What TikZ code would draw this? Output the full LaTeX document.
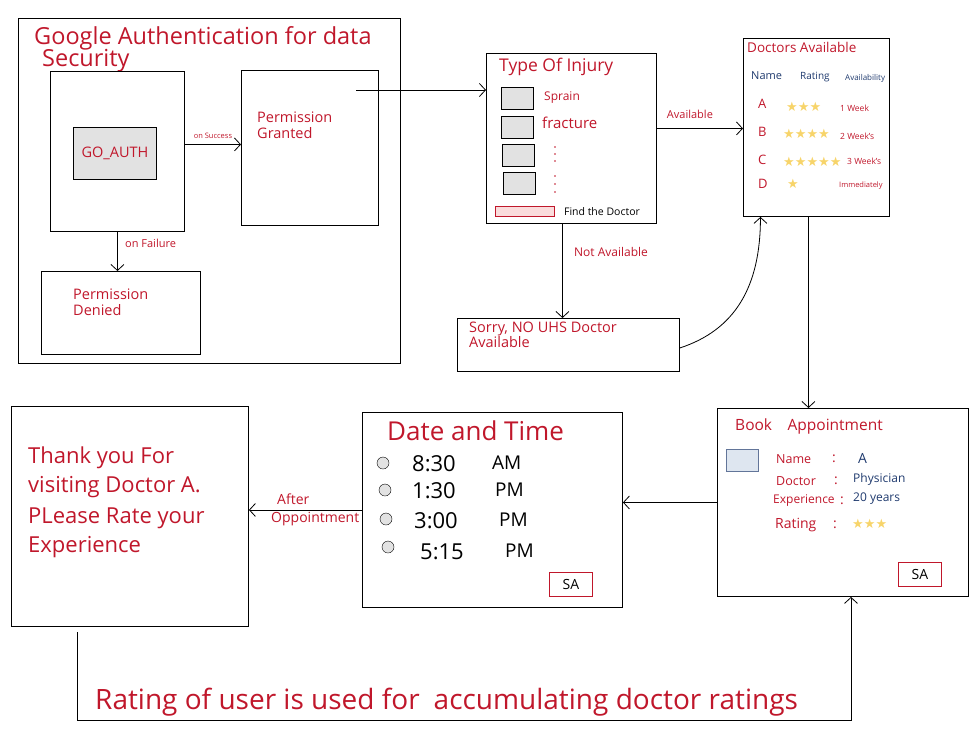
\documentclass[tikz,border=0pt]{standalone}
\usepackage{fontspec}
\setmainfont{Open Sans}
\newfontfamily\starfont{DejaVu Sans}
\usetikzlibrary{arrows.meta,positioning}
\definecolor{inkred}{HTML}{C0172B}
\definecolor{inkblue}{HTML}{1F3A6E}
\definecolor{boxgray}{HTML}{E2E2E2}
\definecolor{stargold}{HTML}{F7D46A}
\definecolor{btnpink}{HTML}{FADCDC}
\definecolor{picblue}{HTML}{DEE6F0}
\newcommand\fs[1]{\fontsize{#1}{#1}\selectfont}
\newcommand\starrow[1]{{\starfont\color{stargold}#1}}

\begin{document}
\begin{tikzpicture}[
            x=1pt, y=-1pt,
            box/.style={draw, line width=0.9pt, anchor=north west, inner sep=0pt},
            check/.style={box, fill=boxgray, minimum width=32pt, minimum height=22pt},
            radio/.style={draw, circle, fill=boxgray, minimum size=12pt, inner sep=0pt},
            sabox/.style={box, draw=inkred, minimum width=43pt, minimum height=24pt, font=\fs{14}},
            ink/.style={text=inkred, anchor=west, inner sep=0pt},
            bink/.style={text=inkblue, anchor=west, inner sep=0pt},
            plain/.style={anchor=west, inner sep=0pt},
            flow/.style={-{Straight Barb[length=6pt,width=13pt]}, line width=0.8pt}
        ]
        \useasboundingbox (0,0) rectangle (978,740);

        % google authentication block
        \node[box, minimum width=382pt, minimum height=345pt] (google) at (18,18) {};
        \node[ink, font=\fs{23.5}] (gtitle) at (34,38) {Google Authentication for data};
        \node[ink, font=\fs{23.5}] (gtitle2) at (42,61) {Security};
        \node[box, minimum width=134pt, minimum height=160pt] (goauth) at (50,71) {};
        \node[box, fill=boxgray, minimum width=83pt, minimum height=52pt,
              text=inkred, font=\fs{14.5}] (goinner) at (73,127) {GO\_AUTH};
        \node[box, minimum width=137pt, minimum height=155pt] (granted) at (241,70) {};
        \node[ink, font=\fs{14.5}, align=left] at (257,125) {Permission\\[2pt]Granted};
        \node[box, minimum width=159pt, minimum height=83pt] (denied) at (41,271) {};
        \node[ink, font=\fs{14.5}, align=left] at (73,302) {Permission\\[2pt]Denied};

        \draw[flow] ([yshift=7pt]goauth.east) -- ([yshift=7pt]goauth.east -| granted.west)
            node[midway, above=2pt, text=inkred, font=\fs{7.5}] {on Success};
        \draw[flow] (goauth.south) -- (goauth.south |- denied.north)
            node[pos=0.3, right=4pt, text=inkred, font=\fs{11}] {on Failure};

        % type of injury
        \node[box, minimum width=170pt, minimum height=170pt] (injury) at (486,53) {};
        \node[ink, font=\fs{17.5}] at (499,67) {Type Of Injury};
        \node[check] (c1) at (501,87) {};
        \node[check] (c2) at (501,116) {};
        \node[check] (c3) at (502,144) {};
        \node[check] (c4) at (503,172) {};
        \node[ink, font=\fs{12}] at (544,98) {Sprain};
        \node[ink, font=\fs{15}] at (542,123) {fracture};
        \foreach \y in {147,154,161,176,184,192}
            \fill[inkred] (555,\y) circle (0.9);
        \node[box, draw=inkred, fill=btnpink, minimum width=59pt, minimum height=10pt] (find) at (495,206) {};
        \node[plain, font=\fs{10.5}, right=9pt of find] {Find the Doctor};

        \coordinate (gout) at (356,90);
        \draw[flow] (gout) -- (gout -| injury.west);

        % doctors available
        \node[box, minimum width=146pt, minimum height=178pt] (doctors) at (743,38) {};
        \node[ink, font=\fs{13.5}] at (747,47) {Doctors Available};
        \node[bink, font=\fs{11}] at (751,76) {Name};
        \node[bink, font=\fs{10}] at (800,77) {Rating};
        \node[bink, font=\fs{8}] at (845,78) {Availability};
        \node[ink, font=\fs{13}] at (758,104) {A};
        \node[ink, font=\fs{13}] at (758,132) {B};
        \node[ink, font=\fs{13}] at (758,160) {C};
        \node[ink, font=\fs{13}] at (758,184) {D};
        \node[plain, font=\fs{13}] at (786,107) {\starrow{★★★}};
        \node[plain, font=\fs{13}] at (783,134) {\starrow{★★★★}};
        \node[plain, font=\fs{13}] at (783,162) {\starrow{★★★★★}};
        \node[plain, font=\fs{13}] at (787,184) {\starrow{★}};
        \node[ink, font=\fs{8.5}] at (840,108) {1 Week};
        \node[ink, font=\fs{8.5}] at (840,136) {2 Week's};
        \node[ink, font=\fs{8.5}] at (847,161) {3 Week's};
        \node[ink, font=\fs{7.5}] at (839,186) {Immediately};

        \draw[flow] ([yshift=10pt]injury.east) -- ([yshift=10pt]injury.east -| doctors.west)
            node[midway, above=6pt, xshift=-10pt, text=inkred, font=\fs{11}] {Available};

        % no doctors
        \node[box, minimum width=222pt, minimum height=53pt] (sorry) at (457,318) {};
        \node[ink, font=\fs{14.5}, align=left] at (469,335) {Sorry, NO UHS Doctor\\Available};
        \draw[flow] ([xshift=-9pt]injury.south) -- ([xshift=-9pt]injury.south |- sorry.north)
            node[pos=0.3, right=8pt, text=inkred, font=\fs{12}] {Not Available};
        \draw[flow] ([yshift=-3pt]sorry.east) .. controls +(55,-18) and +(0,70) .. ([xshift=-56pt]doctors.south);

        % book appointment
        \node[box, minimum width=251pt, minimum height=188pt] (book) at (717,408) {};
        \node[ink, font=\fs{15.5}] at (735,426) {Book\quad Appointment};
        \node[box, draw=inkblue!70, fill=picblue, minimum width=32pt, minimum height=22pt] (pic) at (726,449) {};
        \node[ink, font=\fs{12.5}] at (776,459) {Name};
        \node[ink, font=\fs{12.5}] at (776,481) {Doctor};
        \node[ink, font=\fs{12}] at (773,501) {Experience};
        \node[ink, font=\fs{14}] at (775,525) {Rating};
        \node[ink, font=\fs{14}] at (832,459) {:};
        \node[ink, font=\fs{14}] at (834,481) {:};
        \node[ink, font=\fs{14}] at (840,501) {:};
        \node[ink, font=\fs{14}] at (833,525) {:};
        \node[bink, font=\fs{14}] at (858,458) {A};
        \node[bink, font=\fs{12}] at (853,479) {Physician};
        \node[bink, font=\fs{12}] at (853,499) {20 years};
        \node[plain, font=\fs{13}] at (852,524) {\starrow{★★★}};
        \node[sabox] (sabook) at (898,562) {SA};

        \draw[flow] ([xshift=-8pt]doctors.south) -- ([xshift=-8pt]doctors.south |- book.north);

        % date and time
        \node[box, minimum width=260pt, minimum height=195pt] (datetime) at (362,412) {};
        \node[ink, font=\fs{26}] at (387,431) {Date and Time};
        \node[radio] (r1) at (383,463) {};
        \node[radio] (r2) at (385,490) {};
        \node[radio] (r3) at (386,519) {};
        \node[radio] (r4) at (388,547) {};
        \node[plain, font=\fs{22}] at (412,464) {8:30};
        \node[plain, font=\fs{22}] at (412,491) {1:30};
        \node[plain, font=\fs{22}] at (414,521) {3:00};
        \node[plain, font=\fs{22}] at (420,552) {5:15};
        \node[plain, font=\fs{19}] at (492,463) {AM};
        \node[plain, font=\fs{19}] at (495,490) {PM};
        \node[plain, font=\fs{19}] at (499,520) {PM};
        \node[plain, font=\fs{19}] at (505,551) {PM};
        \node[sabox] (sadate) at (549,572) {SA};

        \draw[flow] (book.west) -- (book.west -| datetime.east);

        % thank you
        \node[box, minimum width=237pt, minimum height=220pt] (thanks) at (11,406) {};
        \node[ink, font=\fs{22}, align=left, anchor=north west] at (28,447)
            {Thank you For\\[7pt]visiting Doctor A.\\[9pt]PLease Rate your\\[7pt]Experience};

        \draw[flow] (datetime.west) -- (datetime.west -| thanks.east);
        \node[ink, font=\fs{14}, align=left] (after) at (271,510) {\hspace*{6pt}After\\[4pt]Oppointment};

        % rating feedback loop
        \coordinate (rtop) at (77,632);
        \coordinate (rbl) at (77,720);
        \coordinate (rbr) at (851,720);
        \draw[flow] (rtop) -- (rbl) -- (rbr) -- (rbr |- book.south);
        \node[ink, font=\fs{28}] (rating) at (95,702) {Rating of user is used for\enspace accumulating doctor ratings};
        \end{tikzpicture}
\end{document}
